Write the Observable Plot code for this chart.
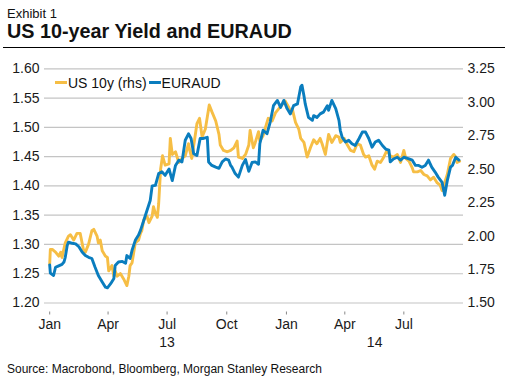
<!DOCTYPE html>
<html>
<head>
<meta charset="utf-8">
<script src="https://cdn.jsdelivr.net/npm/d3@7"></script>
<script src="https://cdn.jsdelivr.net/npm/@observablehq/plot@0.6"></script>
<style>
  html, body { margin: 0; padding: 0; background: #fff; }
  body { width: 515px; height: 383px; position: relative; overflow: hidden; font-family: "Liberation Sans", Arial, sans-serif; color: #111; }
  .abs { position: absolute; white-space: nowrap; line-height: 1; }
  #exhibit { left: 7px; top: 7.3px; font-size: 13px; }
  #title { left: 7px; top: 22.4px; font-size: 19.8px; font-weight: bold; }
  #rule { left: 3px; top: 46.6px; width: 502px; height: 1.4px; background: #000; }
  #chart { position: absolute; left: 0; top: 50px; }
  #legend { left: 55px; top: 75.5px; font-size: 14px; display: flex; align-items: center; }
  .sw { display: inline-block; width: 12px; height: 3px; margin-right: 1px; }
  #source { left: 7px; top: 362.5px; font-size: 12px; }
</style>
</head>
<body>
<div class="abs" id="exhibit">Exhibit 1</div>
<div class="abs" id="title">US 10-year Yield and EURAUD</div>
<div class="abs" id="rule"></div>
<div id="chart"></div>
<div class="abs" id="legend"></div>
<div class="abs" id="source">Source: Macrobond, Bloomberg, Morgan Stanley Research</div>
<script>
// ---- Data ----
const euraudDates = ["2013-01-01","2013-01-02","2013-01-07","2013-01-10","2013-01-14","2013-01-20","2013-01-23","2013-01-25","2013-01-28","2013-01-30","2013-02-05","2013-02-10","2013-02-15","2013-02-20","2013-02-25","2013-03-02","2013-03-07","2013-03-12","2013-03-17","2013-03-23","2013-03-28","2013-03-31","2013-04-05","2013-04-10","2013-04-12","2013-04-17","2013-04-23","2013-04-28","2013-04-30","2013-05-05","2013-05-08","2013-05-13","2013-05-18","2013-05-21","2013-05-26","2013-05-31","2013-06-05","2013-06-08","2013-06-13","2013-06-18","2013-06-23","2013-06-28","2013-07-04","2013-07-09","2013-07-14","2013-07-19","2013-07-24","2013-07-29","2013-08-03","2013-08-07","2013-08-11","2013-08-16","2013-08-21","2013-08-26","2013-09-01","2013-09-03","2013-09-08","2013-09-14","2013-09-19","2013-09-24","2013-09-29","2013-10-04","2013-10-07","2013-10-09","2013-10-14","2013-10-19","2013-10-25","2013-10-30","2013-11-04","2013-11-09","2013-11-14","2013-11-19","2013-11-21","2013-11-26","2013-12-02","2013-12-07","2013-12-12","2013-12-18","2013-12-23","2013-12-28","2014-01-02","2014-01-07","2014-01-12","2014-01-18","2014-01-23","2014-01-25","2014-01-28","2014-01-30","2014-02-04","2014-02-10","2014-02-12","2014-02-17","2014-02-22","2014-02-27","2014-03-05","2014-03-07","2014-03-12","2014-03-18","2014-03-23","2014-03-25","2014-03-28","2014-04-02","2014-04-07","2014-04-12","2014-04-17","2014-04-23","2014-04-28","2014-05-03","2014-05-08","2014-05-13","2014-05-18","2014-05-23","2014-05-29","2014-06-03","2014-06-08","2014-06-10","2014-06-15","2014-06-21","2014-06-26","2014-07-01","2014-07-09","2014-07-14","2014-07-19","2014-07-24","2014-07-29","2014-08-03","2014-08-08","2014-08-13","2014-08-18","2014-08-23","2014-08-29","2014-09-02","2014-09-06","2014-09-11","2014-09-14","2014-09-19","2014-09-24"];
const euraudValues = [1.265,1.251,1.247,1.261,1.263,1.266,1.270,1.278,1.298,1.304,1.302,1.301,1.296,1.287,1.281,1.278,1.276,1.261,1.247,1.236,1.227,1.226,1.233,1.242,1.264,1.270,1.271,1.268,1.281,1.276,1.290,1.307,1.316,1.324,1.341,1.358,1.375,1.400,1.401,1.421,1.424,1.418,1.429,1.409,1.435,1.444,1.441,1.478,1.489,1.481,1.455,1.452,1.481,1.481,1.483,1.441,1.435,1.432,1.430,1.441,1.446,1.444,1.435,1.432,1.421,1.415,1.435,1.445,1.425,1.440,1.441,1.437,1.472,1.495,1.489,1.509,1.537,1.546,1.534,1.546,1.532,1.523,1.537,1.540,1.569,1.572,1.554,1.540,1.517,1.512,1.520,1.517,1.523,1.526,1.537,1.529,1.546,1.532,1.512,1.495,1.483,1.475,1.478,1.472,1.469,1.481,1.492,1.492,1.481,1.466,1.475,1.478,1.469,1.463,1.461,1.441,1.446,1.449,1.444,1.449,1.446,1.444,1.435,1.435,1.432,1.435,1.444,1.432,1.424,1.415,1.406,1.384,1.409,1.432,1.435,1.449,1.444];

const us10yDates = ["2013-01-01","2013-01-02","2013-01-05","2013-01-10","2013-01-15","2013-01-18","2013-01-20","2013-01-25","2013-01-30","2013-02-02","2013-02-07","2013-02-12","2013-02-17","2013-02-22","2013-02-25","2013-03-02","2013-03-07","2013-03-10","2013-03-15","2013-03-17","2013-03-20","2013-03-23","2013-03-28","2013-03-31","2013-04-02","2013-04-07","2013-04-10","2013-04-12","2013-04-15","2013-04-20","2013-04-25","2013-04-30","2013-05-03","2013-05-05","2013-05-08","2013-05-13","2013-05-18","2013-05-21","2013-05-23","2013-05-26","2013-05-31","2013-06-03","2013-06-08","2013-06-10","2013-06-13","2013-06-16","2013-06-18","2013-06-21","2013-06-24","2013-06-28","2013-07-04","2013-07-06","2013-07-09","2013-07-14","2013-07-19","2013-07-24","2013-07-29","2013-08-03","2013-08-05","2013-08-08","2013-08-13","2013-08-16","2013-08-20","2013-08-24","2013-08-29","2013-09-01","2013-09-04","2013-09-08","2013-09-14","2013-09-19","2013-09-21","2013-09-26","2013-10-02","2013-10-07","2013-10-12","2013-10-17","2013-10-19","2013-10-25","2013-10-30","2013-11-04","2013-11-06","2013-11-11","2013-11-14","2013-11-19","2013-11-21","2013-11-26","2013-12-02","2013-12-04","2013-12-10","2013-12-15","2013-12-20","2013-12-25","2013-12-30","2014-01-05","2014-01-07","2014-01-10","2014-01-15","2014-01-20","2014-01-23","2014-01-28","2014-02-02","2014-02-07","2014-02-12","2014-02-17","2014-02-22","2014-02-25","2014-03-02","2014-03-07","2014-03-12","2014-03-18","2014-03-23","2014-03-25","2014-03-31","2014-04-05","2014-04-10","2014-04-15","2014-04-20","2014-04-25","2014-04-30","2014-05-03","2014-05-08","2014-05-13","2014-05-17","2014-05-21","2014-05-26","2014-05-31","2014-06-05","2014-06-10","2014-06-15","2014-06-21","2014-06-26","2014-07-01","2014-07-04","2014-07-09","2014-07-14","2014-07-16","2014-07-22","2014-07-27","2014-08-01","2014-08-06","2014-08-11","2014-08-16","2014-08-21","2014-08-26","2014-08-29","2014-09-02","2014-09-06","2014-09-11","2014-09-16","2014-09-19","2014-09-21","2014-09-25"];
const us10yValues = [1.79,1.90,1.90,1.88,1.85,1.88,1.84,1.95,2.00,2.01,1.97,2.02,2.02,1.90,1.88,1.94,2.04,2.05,2.00,1.95,1.97,1.89,1.85,1.84,1.74,1.78,1.70,1.74,1.70,1.72,1.68,1.63,1.70,1.78,1.80,1.95,1.97,2.02,2.04,2.12,2.15,2.10,2.15,2.22,2.17,2.14,2.24,2.50,2.60,2.53,2.54,2.73,2.61,2.63,2.55,2.58,2.60,2.69,2.64,2.58,2.74,2.84,2.88,2.74,2.80,2.89,2.98,2.93,2.86,2.76,2.68,2.64,2.63,2.64,2.66,2.71,2.59,2.58,2.61,2.68,2.79,2.66,2.70,2.78,2.71,2.75,2.85,2.88,2.86,2.92,2.95,2.98,3.01,2.96,2.93,2.95,2.85,2.80,2.73,2.70,2.59,2.66,2.72,2.69,2.73,2.69,2.61,2.76,2.70,2.75,2.74,2.70,2.73,2.68,2.64,2.63,2.69,2.68,2.61,2.59,2.60,2.53,2.50,2.56,2.55,2.59,2.64,2.60,2.59,2.61,2.55,2.64,2.58,2.56,2.51,2.48,2.48,2.49,2.46,2.45,2.42,2.44,2.40,2.38,2.34,2.40,2.46,2.58,2.61,2.59,2.55,2.56];

const seriesNames = ["US 10y (rhs)", "EURAUD"];
const seriesColors = ["#F6BE45", "#0A7DBE"];
const leftTicks = [1.20, 1.25, 1.30, 1.35, 1.40, 1.45, 1.50, 1.55, 1.60];
const rightTicks = [1.50, 1.75, 2.00, 2.25, 2.50, 2.75, 3.00, 3.25];
const monthTicks = ["2013-01-01","2013-04-01","2013-07-01","2013-10-01","2014-01-01","2014-04-01","2014-07-01"];
const yearLabels = [{date: "2013-07-01", label: "13"}, {date: "2014-05-17", label: "14"}];
const xDomain = ["2012-12-24", "2014-10-01"];

// ---- Dual axis mapping: right (US 10y) domain onto left (EURAUD) domain ----
const leftDom = [leftTicks[0], leftTicks[leftTicks.length - 1]];
const rightDom = [rightTicks[0], rightTicks[rightTicks.length - 1]];
const toLeft = v => leftDom[0] + (v - rightDom[0]) * (leftDom[1] - leftDom[0]) / (rightDom[1] - rightDom[0]);
const fromLeft = v => rightDom[0] + (v - leftDom[0]) * (rightDom[1] - rightDom[0]) / (leftDom[1] - leftDom[0]);

const parse = s => new Date(s + "T00:00:00Z");
const euraud = euraudDates.map((d, i) => ({date: parse(d), value: euraudValues[i]}));
const us10y = us10yDates.map((d, i) => ({date: parse(d), value: toLeft(us10yValues[i])}));
const years = yearLabels.map(d => ({date: parse(d.date), label: d.label}));

const chart = Plot.plot({
  width: 515,
  height: 300,
  marginTop: 18.3,
  marginBottom: 47.5,
  marginLeft: 44,
  marginRight: 52,
  style: {fontFamily: "'Liberation Sans', Arial, sans-serif", fontSize: "14px", color: "#1a1a1a", background: "transparent"},
  x: {type: "utc", domain: xDomain.map(parse), label: null},
  y: {domain: leftDom, label: null},
  marks: [
    Plot.gridY(leftTicks, {stroke: "#c4c4c4", strokeOpacity: 1, strokeWidth: 1.2}),
    Plot.axisY(leftTicks, {anchor: "left", label: null, tickSize: 0, tickPadding: 5, tickFormat: d => d.toFixed(2), fontSize: 14}),
    Plot.axisY(rightTicks.map(toLeft), {anchor: "right", label: null, tickSize: 0, tickPadding: 4, tickFormat: d => fromLeft(d).toFixed(2), fontSize: 14}),
    Plot.axisX(monthTicks.map(parse), {label: null, tickSize: 3, tickPadding: 4, dy: 9, tickFormat: d3.utcFormat("%b"), fontSize: 14, stroke: "#888"}),
    Plot.text(years, {x: "date", text: "label", frameAnchor: "bottom", lineAnchor: "top", dy: 34.5, fontSize: 14, fill: "#1a1a1a"}),
    Plot.lineY(us10y, {x: "date", y: "value", stroke: seriesColors[0], strokeWidth: 2.9, strokeLinejoin: "round"}),
    Plot.lineY(euraud, {x: "date", y: "value", stroke: seriesColors[1], strokeWidth: 2.9, strokeLinejoin: "round"})
  ]
});
document.getElementById("chart").appendChild(chart);

// Legend
const legend = document.getElementById("legend");
seriesNames.forEach((name, i) => {
  const sw = document.createElement("span");
  sw.className = "sw";
  sw.style.background = seriesColors[i];
  const tx = document.createElement("span");
  tx.textContent = name;
  tx.style.marginRight = i === 0 ? "2px" : "0";
  legend.appendChild(sw);
  legend.appendChild(tx);
});
</script>
</body>
</html>
